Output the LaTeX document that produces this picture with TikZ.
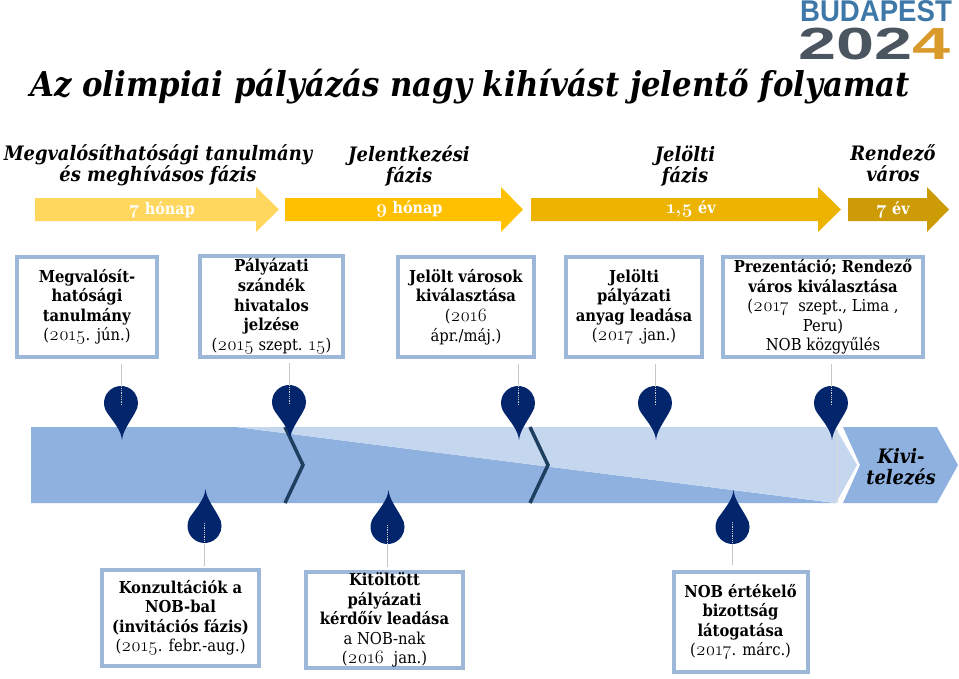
\documentclass[tikz,border=0pt]{standalone}
\usepackage{fontspec}
\setmainfont{DejaVu Serif Condensed}
\newfontfamily\logofont{Liberation Sans}
\newfontfamily\numfont[Numbers=OldStyle]{Latin Modern Roman}
\newcommand{\yr}[1]{{\numfont\fontsize{19}{19.5}\selectfont #1}}
\definecolor{boxblue}{HTML}{9DB7D8}
\definecolor{bandblue}{HTML}{8EB1E0}
\definecolor{bandlight}{HTML}{C5D6EF}
\definecolor{pinblue}{HTML}{03256C}
\definecolor{zigblue}{HTML}{1F3F60}
\definecolor{logoblue}{HTML}{3E78A8}
\definecolor{logodark}{HTML}{4A5560}
\definecolor{logogold}{HTML}{D99A2B}
\tikzset{
  datebox/.style={draw=boxblue, line width=4pt, fill=white, align=center, inner sep=0pt, font=\fontsize{16.4}{19.6}\selectfont},
  phasetext/.style={align=center, font=\fontsize{19.9}{21.5}\selectfont\bfseries\itshape},
  spantext/.style={text=white, font=\fontsize{16}{19}\selectfont\bfseries},
  stem/.style={draw=black!22, line width=0.8pt},
  stemdot/.style={draw=white!80!black, line width=0.8pt, densely dotted},
  pinshape/.pic={\fill[pinblue] (1,37) .. controls (0,28) and (-5,22) .. (-13.9,9.75) arc (145:395:17) .. controls (7,22) and (2,28) .. (1,37) -- cycle;}
}
\begin{document}
\begin{tikzpicture}[x=1pt,y=-1pt]
\useasboundingbox (0,0) rectangle (959,678);
% logo
\node[xscale=0.92, inner sep=0pt] (logotop) at (876,11.5) {\fontsize{30}{30}\logofont\bfseries\textcolor{logoblue}{BUDAPEST}};
\node[xscale=1.52, inner sep=0pt] (logoyear) at (874.5,44) {\fontsize{45}{45}\logofont\bfseries\textcolor{logodark}{202}\textcolor{logogold}{4}};
% title
\node[inner sep=0pt, font=\fontsize{34.2}{34}\selectfont\bfseries\itshape] (title) at (470,87) {Az olimpiai pályázás nagy kihívást jelentő folyamat};
% phases
\node[phasetext] (studyphase) at (158,165) {Megvalósíthatósági tanulmány\\és meghívásos fázis};
\node[phasetext] (applyphase) at (409,166) {Jelentkezési\\fázis};
\node[phasetext] (candphase) at (685,166) {Jelölti\\fázis};
\node[phasetext] (hostphase) at (893,163) {Rendező\\város};
% arrows
\fill[fill={rgb,255:red,255;green,215;blue,94}] (35,198) -- (256,198) -- (256,187) -- (279,209.5) -- (256,232) -- (256,221) -- (35,221) -- cycle;
\fill[fill={rgb,255:red,255;green,192;blue,0}] (285,198) -- (501,198) -- (501,187) -- (523,209.5) -- (501,232) -- (501,221) -- (285,221) -- cycle;
\fill[fill={rgb,255:red,236;green,179;blue,0}] (531,198) -- (818,198) -- (818,187) -- (841,209.5) -- (818,232) -- (818,221) -- (531,221) -- cycle;
\fill[fill={rgb,255:red,204;green,155;blue,6}] (848,198) -- (927,198) -- (927,187) -- (949,209.5) -- (927,232) -- (927,221) -- (848,221) -- cycle;
\node[spantext] (span1) at (162,209.5) {\yr{\bfseries 7} hónap};
\node[spantext] (span2) at (409,209.5) {\yr{\bfseries 9} hónap};
\node[spantext] (span3) at (691,209.5) {\yr{\bfseries 1,5} év};
\node[spantext] (span4) at (893,209.5) {\yr{\bfseries 7} év};
% upper boxes
\node[datebox, minimum width=140pt, minimum height=100pt] (box1) at (87,307) {\textbf{Megvalósít-}\\\textbf{hatósági}\\\textbf{tanulmány}\\(\yr{2015}. jún.)};
\node[datebox, minimum width=143pt, minimum height=101pt] (box2) at (271.5,306.5) {\textbf{Pályázati}\\\textbf{szándék}\\\textbf{hivatalos}\\\textbf{jelzése}\\(\yr{2015} szept. \yr{15})};
\node[datebox, minimum width=136pt, minimum height=100pt] (box3) at (466,307) {\textbf{Jelölt városok}\\\textbf{kiválasztása}\\(\yr{2016}\\ápr./máj.)};
\node[datebox, minimum width=136pt, minimum height=100pt] (box4) at (634,307) {\textbf{Jelölti}\\\textbf{pályázati}\\\textbf{anyag leadása}\\(\yr{2017} .jan.)};
\node[datebox, minimum width=200pt, minimum height=100pt] (box5) at (823,307) {\textbf{Prezentáció; Rendező}\\\textbf{város kiválasztása}\\(\yr{2017}\ \ szept., Lima ,\\Peru)\\NOB közgyűlés};
% band
\fill[bandblue] (31,427) -- (236,427) -- (835,503) -- (31,503) -- cycle;
\fill[bandlight] (236,427) -- (835,427) -- (857,465) -- (836,503) -- (835,503) -- cycle;
\draw[white!85!black, line width=0.6pt] (837,430) -- (837,503);
\fill[bandblue] (843,427) -- (937,427) -- (958,465) -- (937,503) -- (843,503) -- (860,465) -- cycle;
\node[phasetext] (buildphase) at (901,467) {Kivi-\\telezés};
\draw[zigblue, line width=3.5pt] (285,427) -- (303,465) -- (285,503);
\draw[zigblue, line width=3.5pt] (530,427) -- (548,465) -- (530,503);
% lower boxes
\node[datebox, minimum width=157pt, minimum height=96pt] (box6) at (180.5,618) {\textbf{Konzultációk a}\\\textbf{NOB-bal}\\\textbf{(invitációs fázis)}\\(\yr{2015}. febr.-aug.)};
\node[datebox, minimum width=157pt, minimum height=96pt] (box7) at (384.5,620) {\textbf{Kitöltött}\\\textbf{pályázati}\\\textbf{kérdőív leadása}\\a NOB-nak\\(\yr{2016}\ \ jan.)};
\node[datebox, minimum width=134pt, minimum height=100pt] (box8) at (740.5,622) {\textbf{NOB értékelő}\\\textbf{bizottság}\\\textbf{látogatása}\\(\yr{2017}. márc.)};
% pins
\coordinate (pin1) at (121,403); \coordinate (tick1) at (121,364);
\coordinate (pin2) at (289,402); \coordinate (tick2) at (289,363);
\coordinate (pin3) at (518,403); \coordinate (tick3) at (518,364);
\coordinate (pin4) at (655,403); \coordinate (tick4) at (655,364);
\coordinate (pin5) at (831,403); \coordinate (tick5) at (831,364);
\coordinate (pin6) at (204.5,526); \coordinate (tick6) at (204.5,566);
\coordinate (pin7) at (387.5,527); \coordinate (tick7) at (387.5,567);
\coordinate (pin8) at (732.5,527); \coordinate (tick8) at (732.5,565);
\draw[stem] (tick1) -- (pin1);
\draw[stem] (tick2) -- (pin2);
\draw[stem] (tick3) -- (pin3);
\draw[stem] (tick4) -- (pin4);
\draw[stem] (tick5) -- (pin5);
\draw[stem] (tick6) -- (pin6);
\draw[stem] (tick7) -- (pin7);
\draw[stem] (tick8) -- (pin8);
\pic at (pin1) {pinshape};
\pic at (pin2) {pinshape};
\pic at (pin3) {pinshape};
\pic at (pin4) {pinshape};
\pic at (pin5) {pinshape};
\pic[yscale=-1] at (pin6) {pinshape};
\pic[yscale=-1] at (pin7) {pinshape};
\pic[yscale=-1] at (pin8) {pinshape};
\draw[stemdot] (pin1) ++(0,2) -- ++(0,-20);
\draw[stemdot] (pin2) ++(0,2) -- ++(0,-20);
\draw[stemdot] (pin3) ++(0,2) -- ++(0,-20);
\draw[stemdot] (pin4) ++(0,2) -- ++(0,-20);
\draw[stemdot] (pin5) ++(0,2) -- ++(0,-20);
\draw[stemdot] (pin6) ++(0,-3) -- ++(0,20);
\draw[stemdot] (pin7) ++(0,-2) -- ++(0,20);
\draw[stemdot] (pin8) ++(0,-5) -- ++(0,20);
\end{tikzpicture}
\end{document}
